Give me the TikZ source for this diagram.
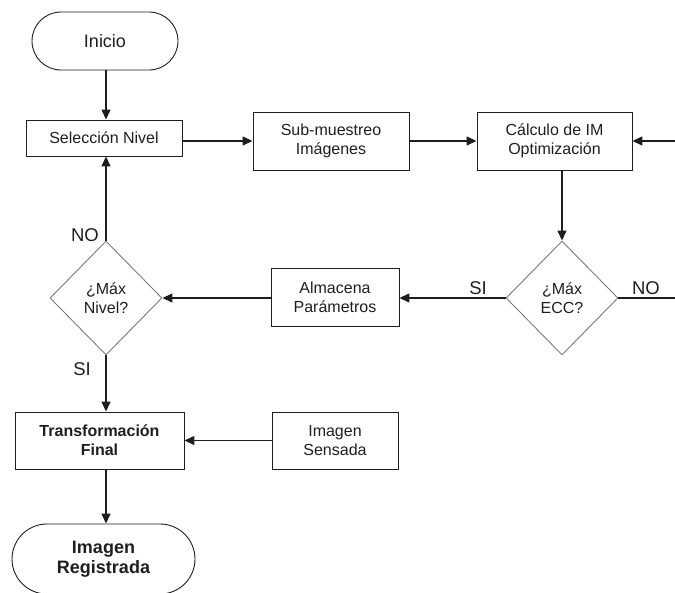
\documentclass[tikz,border=0pt]{standalone}
\usepackage{fontspec}
\setmainfont{Liberation Sans}
\usetikzlibrary{shapes.geometric,arrows.meta}
\definecolor{ink}{HTML}{1E1E1E}
\definecolor{dgray}{HTML}{7A7A7A}
\tikzset{
  txt/.style={font=\fontsize{16}{19}\selectfont, text=ink, align=center},
  procbox/.style={txt, draw=ink, line width=0.9pt, rectangle, inner sep=0pt},
  term/.style={draw=ink, line width=0.9pt, rectangle, inner sep=0pt, align=center, text=ink},
  decide/.style={txt, draw=dgray, line width=0.9pt, diamond, inner sep=0pt},
  conn/.style={draw=ink, line width=1.3pt, -{Triangle[length=10pt,width=9pt]}},
  plain/.style={draw=ink, line width=1.3pt},
  lbl/.style={font=\fontsize{18.5}{20}\selectfont, text=ink, inner sep=0pt}
}
\begin{document}
\begin{tikzpicture}[x=1pt,y=-1pt]
\useasboundingbox (0,0) rectangle (675,592);
\clip (0,0) rectangle (675,592);
\node[term, minimum width=146pt, minimum height=58pt, rounded corners=29pt, font=\fontsize{18}{20}\selectfont] (ini) at (105,41) {Inicio};
\node[procbox, minimum width=156pt, minimum height=36pt] (sel) at (104,138) {Selección Nivel};
\node[procbox, minimum width=156pt, minimum height=58pt] (sub) at (331,141) {Sub-muestreo\\Imágenes};
\node[procbox, minimum width=155pt, minimum height=58pt] (calc) at (554.5,141) {Cálculo de IM\\Optimización};
\node[decide, minimum width=112pt, minimum height=114pt] (ecc) at (562,298) {¿Máx\\ECC?};
\node[procbox, minimum width=128pt, minimum height=58pt] (alm) at (335,297) {Almacena\\Parámetros};
\node[decide, minimum width=112pt, minimum height=114pt] (niv) at (106,298) {¿Máx\\Nivel?};
\node[procbox, minimum width=169pt, minimum height=57pt, font=\bfseries\fontsize{16}{19}\selectfont] (trans) at (99.5,440.5) {Transformación\\Final};
\node[procbox, minimum width=126pt, minimum height=57pt] (sens) at (335,440.5) {Imagen\\Sensada};
\node[term, minimum width=183pt, minimum height=70pt, rounded corners=35pt, font=\bfseries\fontsize{18}{20}\selectfont] (reg) at (103.5,559) {Imagen\\Registrada};
\coordinate (rin) at (675,141);
\coordinate (rout) at (675,298);
% connectors
\draw[conn] (ini.south -| niv.north) -- (niv.north |- sel.north);
\draw[conn] (sel.east |- sub.west) -- (sub.west);
\draw[conn] (sub.east) -- (calc.west);
\draw[conn] (rin) -- (calc.east);
\draw[conn] (calc.south -| ecc.north) -- (ecc.north);
\draw[plain] (ecc.east) -- (rout);
\draw[conn] (ecc.west) -- (alm.east |- ecc.west);
\draw[conn] (alm.west |- niv.east) -- (niv.east);
\draw[conn] (niv.north) -- (niv.north |- sel.south);
\draw[conn] (niv.south) -- (niv.south |- trans.north);
\draw[conn] (sens.west) -- (trans.east |- sens.west);
\draw[conn] (trans.south -| niv.south) -- (niv.south |- reg.north);
% labels
\node[lbl] (lno1) at (646,288) {NO};
\node[lbl] (lsi1) at (478,288) {SI};
\node[lbl] (lno2) at (85,235) {NO};
\node[lbl] (lsi2) at (82,369) {SI};
\end{tikzpicture}
\end{document}
